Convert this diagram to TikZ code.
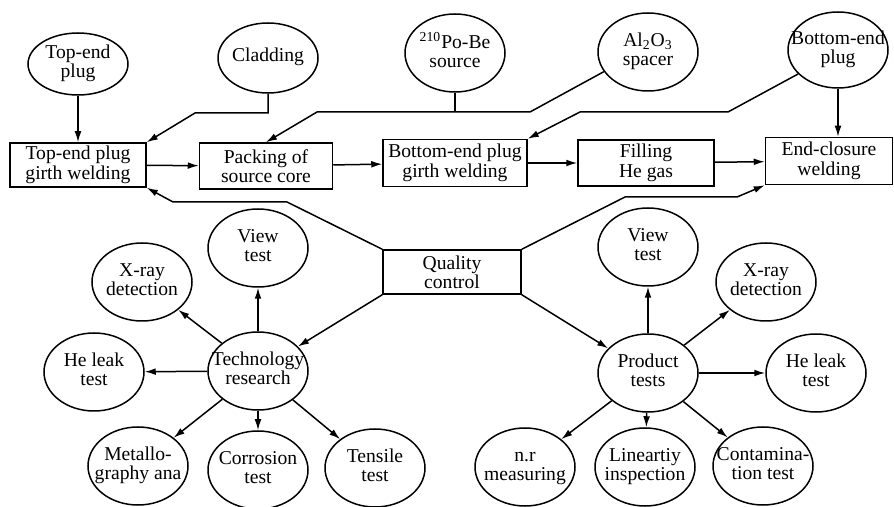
\documentclass[tikz,border=0pt]{standalone}
\usepackage{fontspec}
\setmainfont{Liberation Serif}
\usetikzlibrary{shapes.geometric}
\usetikzlibrary{arrows.meta,arrows}
\newcommand{\cltext}[1]{\makebox[0pt]{\begin{tabular}{@{}c@{}}#1\end{tabular}}}

\begin{document}
\begin{tikzpicture}
[x=0.5pt,y=-0.5pt,
font=\rmfamily\fontsize{9.8}{9.7}\selectfont,
block/.style ={rectangle, draw, line width=0.75pt,
align=center, inner sep=0pt,
minimum width=68pt, minimum height=22.5pt},
cloud/.style ={draw, line width=0.75pt, ellipse,
inner sep=0pt, minimum width=50pt, minimum height=39pt},
line/.style ={draw, line width=0.75pt, -{Latex[length=5.5pt,width=3.4pt]}}]
\useasboundingbox (0,0) rectangle (894,507);
% top row: parts
\node [cloud, minimum height=31pt] (topplug) at (78,64) {\cltext{Top-end\\plug}};
\node [cloud, minimum height=35pt] (cladding) at (268,58) {\cltext{Cladding}};
\node [cloud] (source) at (455,53) {\cltext{\textsuperscript{210}Po-Be\\source}};
\node [cloud] (spacer) at (648,52) {\cltext{Al\textsubscript{2}O\textsubscript{3}\\spacer}};
\node [cloud, minimum height=38pt] (botplug) at (838,50) {\cltext{Bottom-end\\plug}};
% middle row: process steps
\node [block, minimum height=22pt] (tepweld) at (78,165) {Top-end plug\\girth welding};
\node [block, minimum width=66.5pt, minimum height=23pt] (packing) at (266,166) {Packing of\\source core};
\node [block, minimum width=72pt, minimum height=23.5pt] (bepweld) at (455,163) {Bottom-end plug\\girth welding};
\node [block, minimum height=23pt] (filling) at (646,163) {Filling\\He gas};
\node [block, minimum width=63.5pt, minimum height=23.5pt] (endclose) at (829,161) {End-closure\\welding};
\node [block, minimum width=69pt, minimum height=22pt] (quality) at (452,272) {Quality\\control};
% technology research
\node [cloud] (techres) at (258,371) {\cltext{Technology\\research}};
\node [cloud] (tview) at (258,248) {\cltext{View\\test}};
\node [cloud] (txray) at (142,282) {\cltext{X-ray\\detection}};
\node [cloud] (tleak) at (94,372) {\cltext{He leak\\test}};
\node [cloud] (tmetal) at (138,466) {\cltext{Metallo-\\graphy ana}};
\node [cloud] (tcorr) at (258,470) {\cltext{Corrosion\\test}};
\node [cloud] (ttens) at (375,468) {\cltext{Tensile\\test}};
% product tests
\node [cloud] (prodtest) at (648,373) {\cltext{Product\\tests}};
\node [cloud] (pview) at (648,247) {\cltext{View\\test}};
\node [cloud] (pxray) at (766,282) {\cltext{X-ray\\detection}};
\node [cloud] (pleak) at (816,373) {\cltext{He leak\\test}};
\node [cloud] (pnr) at (525,467) {\cltext{n.r\\measuring}};
\node [cloud] (plin) at (645,467) {\cltext{Lineartiy\\inspection}};
\node [cloud] (pcont) at (763,466) {\cltext{Contamina-\\tion test}};
\coordinate (srcjoin) at (455,112);
\draw [line width=0.75pt] (source) -- (srcjoin);
\begin{scope}[every path/.style=line]
\path (topplug) -- (tepweld);
\path (cladding.south) -- (268,113) -- (195,113) -- (tepweld.north east);
\path (spacer.204) -- (530,112) -- (317,112) -- (packing.north);
\path (botplug.211) -- (728,112) -- (580,112) -- (bepweld.north east);
\path (botplug.south) -- (botplug.south |- endclose.north);
\path (tepweld) -- (packing);
\path (packing) -- (bepweld);
\path (bepweld) -- (filling);
\path (filling) -- (endclose);
\path (quality.north west) -- (287,202) -- (173,202) -- (tepweld.south east);
\path (quality.north east) -- (625,197) -- (737,197) -- (endclose.south west);
\path (quality.south west) -- (techres);
\path (quality.south east) -- (prodtest);
\path (techres) -- (tview);
\path (techres) -- (txray);
\path (techres) -- (tleak);
\path (techres) -- (tmetal);
\path (techres) -- (tcorr);
\path (techres) -- (ttens);
\path (prodtest) -- (pview);
\path (prodtest) -- (pxray);
\path (prodtest) -- (pleak);
\path (prodtest) -- (pnr);
\path (prodtest) -- (plin);
\path (prodtest) -- (pcont);
\end{scope}
\end{tikzpicture}
\end{document}
